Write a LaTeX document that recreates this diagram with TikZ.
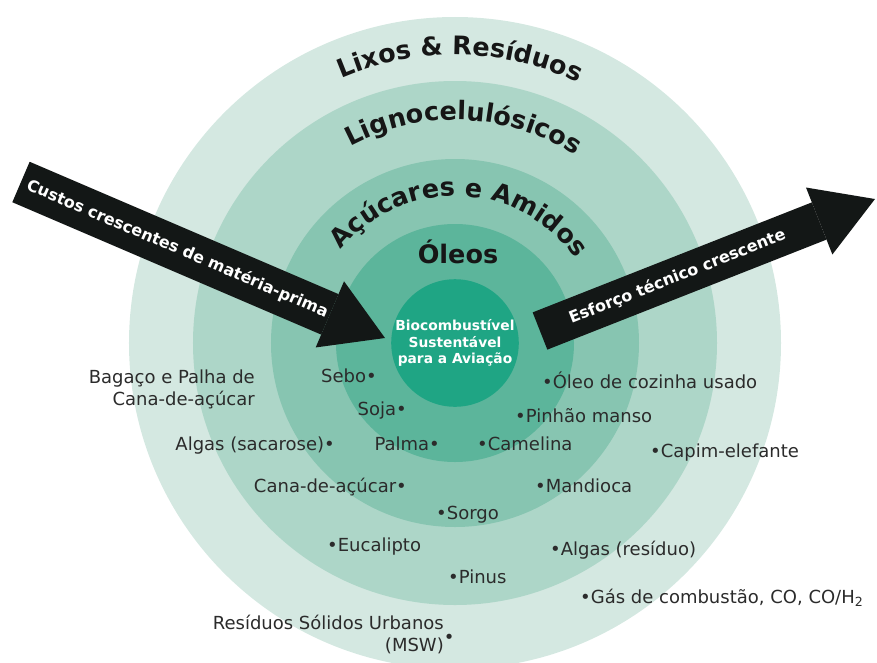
\documentclass[tikz,border=0pt]{standalone}
\usepackage{fontspec}
\setmainfont{DejaVu Sans}
\usetikzlibrary{arrows.meta,decorations.text}

\definecolor{ringA}{HTML}{D4E8E1}
\definecolor{ringB}{HTML}{ADD6C8}
\definecolor{ringC}{HTML}{87C5B1}
\definecolor{ringD}{HTML}{5CB59B}
\definecolor{core}{HTML}{1FA584}
\definecolor{arrowdark}{HTML}{131716}
\definecolor{labeltext}{HTML}{2B2B2B}
\definecolor{titletext}{HTML}{161616}

\newcommand{\ringfont}{\fontsize{25.5pt}{25.5pt}\selectfont\bfseries}

\tikzset{
  ringtitle/.style={decorate, decoration={text along path, text align=center,
      text color=titletext, text={|\ringfont|#1}}},
  item/.style={font=\fontsize{18pt}{22pt}\selectfont, text=labeltext, inner sep=0pt},
  bigarrow/.style={draw=arrowdark, line width=#1,
      -{Triangle[length=60pt, width=72pt, line width=0pt]}},
  arrowtext/.style={font=\fontsize{16pt}{16pt}\selectfont\bfseries, text=white, sloped},
}

\begin{document}
\begin{tikzpicture}[x=1pt, y=1pt]
   \useasboundingbox (-455,-319) rectangle (422,343);

   % rings
   \fill[ringA] (0,0) circle[radius=326pt];
   \fill[ringB] (0,0) circle[radius=262pt];
   \fill[ringC] (0,0) circle[radius=184pt];
   \fill[ringD] (0,0) circle[radius=119pt];
   \node[circle, fill=core, minimum size=116pt, inner sep=0pt, text=white, align=center,
         font=\fontsize{13.8pt}{16.5pt}\selectfont\bfseries] (core) at (0,0)
         {Biocombustível\\Sustentável\\para a Aviação};

   % ring titles
   \path[ringtitle={Lixos {\&} Resíduos}] (159:288pt) arc[start angle=159, end angle=19, radius=288pt];
   \path[ringtitle={Lignocelulósicos}] (157.7:223pt) arc[start angle=157.7, end angle=17.7, radius=223pt];
   \path[ringtitle={Açúcares e Amidos}] (167.8:147pt) arc[start angle=167.8, end angle=7.8, radius=147pt];
   \node[font=\ringfont, text=titletext, anchor=base] (oleos) at (3,80) {Óleos};

   % arrows
   \coordinate (feedstart) at (-434,161);
   \coordinate (feedtip) at (-70,5);
   \draw[bigarrow=44pt] (feedstart) -- node[arrowtext, pos=.43] (feedlabel) {Custos crescentes de matéria-prima} (feedtip);
   \coordinate (effstart) at (85,12);
   \coordinate (efftip) at (420,144);
   \draw[bigarrow=40pt] (effstart) -- node[arrowtext, pos=.41] (efflabel) {Esforço técnico crescente} (efftip);

   % feedstocks, left side
   \node[item, anchor=east, align=right] (bagaco) at (-200,-46) {Bagaço e Palha de\\Cana-de-açúcar};
   \node[item, anchor=base east] (sebo) at (-78,-39) {Sebo•};
   \node[item, anchor=base east] (soja) at (-48,-72) {Soja•};
   \node[item, anchor=base east] (algas1) at (-120,-107) {Algas (sacarose)•};
   \node[item, anchor=base east] (palma) at (-15,-107) {Palma•};
   \node[item, anchor=base east] (cana) at (-48,-149) {Cana-de-açúcar•};
   \node[item, anchor=base west] (eucalipto) at (-128,-208) {•Eucalipto};
   \node[item, anchor=east, align=right] (msw) at (-11,-291)
        {Resíduos Sólidos Urbanos\\(MSW)\rlap{\raisebox{8pt}{•}}};

   % feedstocks, right side
   \node[item, anchor=base west] (oleo) at (87,-45) {•Óleo de cozinha usado};
   \node[item, anchor=base west] (pinhao) at (60,-79) {•Pinhão manso};
   \node[item, anchor=base west] (camelina) at (22,-107) {•Camelina};
   \node[item, anchor=base west] (capim) at (195,-114) {•Capim-elefante};
   \node[item, anchor=base west] (mandioca) at (80,-149) {•Mandioca};
   \node[item, anchor=base west] (sorgo) at (-19,-176) {•Sorgo};
   \node[item, anchor=base west] (algas2) at (95,-212) {•Algas (resíduo)};
   \node[item, anchor=base west] (pinus) at (-7,-240) {•Pinus};
   \node[item, anchor=base west] (gas) at (125,-260) {•Gás de combustão, CO, CO/H\textsubscript{2}};
\end{tikzpicture}
\end{document}
